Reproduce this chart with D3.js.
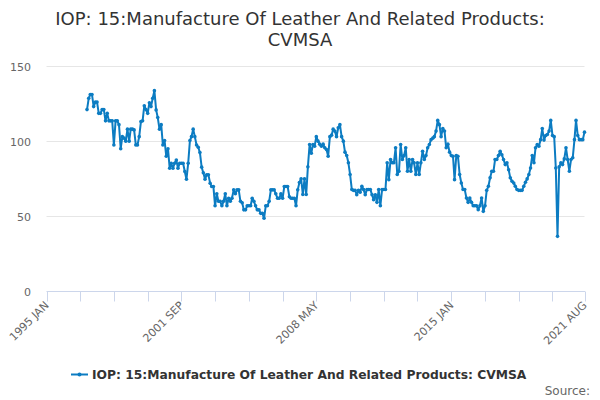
<!DOCTYPE html>
<html>
<head>
<meta charset="utf-8">
<script src="https://cdn.jsdelivr.net/npm/d3@7"></script>
<style>
  body { margin: 0; background: #fff; }
  svg { display: block; font-family: "DejaVu Sans", sans-serif; }
</style>
</head>
<body>
<svg id="chart" width="600" height="400"></svg>
<script>
const titleLines = ["IOP: 15:Manufacture Of Leather And Related Products:", "CVMSA"];
const seriesName = "IOP: 15:Manufacture Of Leather And Related Products: CVMSA";
const startMonth = [1997, 0];
const values = [
  121, 128.5, 131, 131, 123, 126, 126, 118.5, 118.5, 121, 121, 113.5,
  118.5, 113.5, 113.5, 113.5, 97.5, 113.5, 113.5, 111, 95, 103, 102, 100,
  108, 100, 108, 108, 107.5, 97.5, 97.5, 103, 113, 113.5, 123.6, 121,
  118.5, 125.6, 123, 128.5, 133.6, 120.8, 115.7, 108, 111, 97.5, 100.4, 90,
  95, 82, 85.3, 82, 85.3, 87.5, 82, 85.3, 85.3, 85.3, 79.8, 74.7,
  85.3, 100.4, 103, 108, 103, 97.5, 96, 92.4, 82.7, 79, 74.7, 77.6,
  77.6, 72, 69.8, 69.8, 57, 65, 60, 60, 57, 60, 65, 57,
  62, 60, 62, 67.6, 65, 67.6, 67.6, 60, 59, 54.3, 54.3, 57,
  57, 57, 62, 60, 57, 54.3, 54.3, 52, 52, 48.7, 57, 57,
  60, 67.6, 67.6, 67.6, 65, 62, 62, 65, 62, 69.8, 69.8, 69.8,
  63, 62, 62, 62, 57, 67.6, 72.5,
  75, 64.5, 75, 64.5,
  82.9, 97.8, 92, 97.8, 96.7, 103, 100, 98, 96.7, 98, 95.6, 94.4,
  90, 103, 104, 108, 106.7, 103, 108.9, 111, 103, 100, 92.7, 90.4,
  85.6, 77.8, 67.8, 67.3, 67.3, 64.4, 67.3, 66, 70, 67.8, 64.4, 67.8,
  67.8, 67.8, 64.4, 61, 64.4, 59.3, 67.8, 57, 67.8, 67.8, 67.8, 85.6,
  74.4, 87.8, 85.6, 85.6, 95.6, 77.8, 80, 97.8, 87.8, 90.4, 95.6, 80,
  87.8, 80, 87.8, 85.6, 77.8, 85.6, 77.8, 85.6, 93.3, 87.8, 90.4, 95.6,
  97.8, 101, 102, 103, 106.7, 113.8, 111, 103, 108.4, 106.7, 95.6, 98,
  92.7, 90.4, 90, 74.4, 90.4, 90, 77.8, 72.2, 67.8, 67.8, 62.2, 59.3,
  62.2, 59.3, 57, 57, 57, 54.4, 57, 62.2, 53.3, 57, 67.3, 70,
  75.6, 80, 80, 87.8, 87.8, 90.4, 93.3, 91, 87.8, 84.4, 85.6, 81,
  75.6, 73.3, 72.2, 70, 67.8, 67.3, 67.3, 67.3, 70, 72.7, 74.9, 77.8,
  82.2, 90.4, 85.6, 95.6, 97.8, 96.7, 101, 108.4, 100.7, 103.8, 104.4, 106.7,
  113.8, 103.8, 103, 82.2, 36.7, 82.9, 85.6, 84.4, 88.2, 95.6, 87.8, 80,
  87.8, 89, 101, 113.8, 103.8, 101, 101, 101, 106
];
const yTicks = [0, 50, 100, 150];
const xLabelTicks = ["1995-01", "2001-09", "2008-05", "2015-01", "2021-08"];
const monthNames = ["JAN","FEB","MAR","APR","MAY","JUN","JUL","AUG","SEP","OCT","NOV","DEC"];

const data = values.map((v, i) => ({ date: new Date(startMonth[0], startMonth[1] + i, 1), value: v }));

const svg = d3.select("#chart");
const left = 46.5, right = 584.5;
const x0 = new Date(1995, 0, 1), x1 = new Date(2021, 7, 1);
const x = d3.scaleTime().domain([x0, x1]).range([left, right]);
const y = d3.scaleLinear().domain([0, 150]).range([291.5, 66]);

// title
svg.append("text").attr("text-anchor", "middle")
  .attr("fill", "#333333").style("font-size", "18px")
  .selectAll("tspan").data(titleLines).join("tspan")
  .attr("x", 300).attr("y", (d, i) => 25 + i * 21).text(d => d);

// grid
const gy = svg.append("g");
gy.selectAll("line").data(yTicks.filter(t => t > 0)).join("line")
  .attr("x1", left).attr("x2", right)
  .attr("y1", d => Math.round(y(d)) + 0.5).attr("y2", d => Math.round(y(d)) + 0.5)
  .attr("stroke", "#e6e6e6").attr("stroke-width", 1);
gy.selectAll("text").data(yTicks).join("text")
  .attr("x", 31).attr("y", d => y(d) + 4.5).attr("text-anchor", "end")
  .attr("fill", "#666666").style("font-size", "11px").text(d => d);

// x axis
const minorTicks = d3.range(0, 17).map(i => new Date(1995, i * 20, 1)).map((d, i) => i === 16 ? x1 : d);
const gx = svg.append("g");
gx.append("line").attr("x1", left).attr("x2", right + 0.5).attr("y1", 291.5).attr("y2", 291.5)
  .attr("stroke", "#ccd6eb").attr("stroke-width", 1);
gx.selectAll("line.tick").data(minorTicks).join("line").attr("class", "tick")
  .attr("x1", d => Math.round(x(d)) + 0.5).attr("x2", d => Math.round(x(d)) + 0.5)
  .attr("y1", 291.5).attr("y2", 301.5).attr("stroke", "#ccd6eb").attr("stroke-width", 1);
const parseYM = d3.timeParse("%Y-%m");
gx.selectAll("text").data(xLabelTicks.map(parseYM)).join("text")
  .attr("transform", d => `translate(${x(d) + 3},${306}) rotate(-45)`)
  .attr("text-anchor", "end").attr("fill", "#666666").style("font-size", "11px")
  .text(d => `${d.getFullYear()} ${monthNames[d.getMonth()]}`);

// line
const color = "#0c7cc2";
const line = d3.line().x(d => x(d.date)).y(d => y(d.value));
svg.append("path").datum(data).attr("d", line).attr("fill", "none")
  .attr("stroke", color).attr("stroke-width", 2).attr("stroke-linejoin", "round");
svg.append("g").selectAll("circle").data(data).join("circle")
  .attr("cx", d => x(d.date)).attr("cy", d => y(d.value)).attr("r", 1.8).attr("fill", color);

// legend
const lg = svg.append("g");
lg.append("line").attr("x1", 71).attr("x2", 88).attr("y1", 374.5).attr("y2", 374.5)
  .attr("stroke", color).attr("stroke-width", 2);
lg.append("circle").attr("cx", 79.5).attr("cy", 374.5).attr("r", 2).attr("fill", color);
lg.append("text").attr("x", 92).attr("y", 379).attr("fill", "#333333")
  .style("font-size", "12.3px").style("font-weight", "bold").text(seriesName);

svg.append("text").attr("x", 590).attr("y", 395).attr("text-anchor", "end")
  .attr("fill", "#666666").style("font-size", "12px").text("Source:");
</script>
</body>
</html>
